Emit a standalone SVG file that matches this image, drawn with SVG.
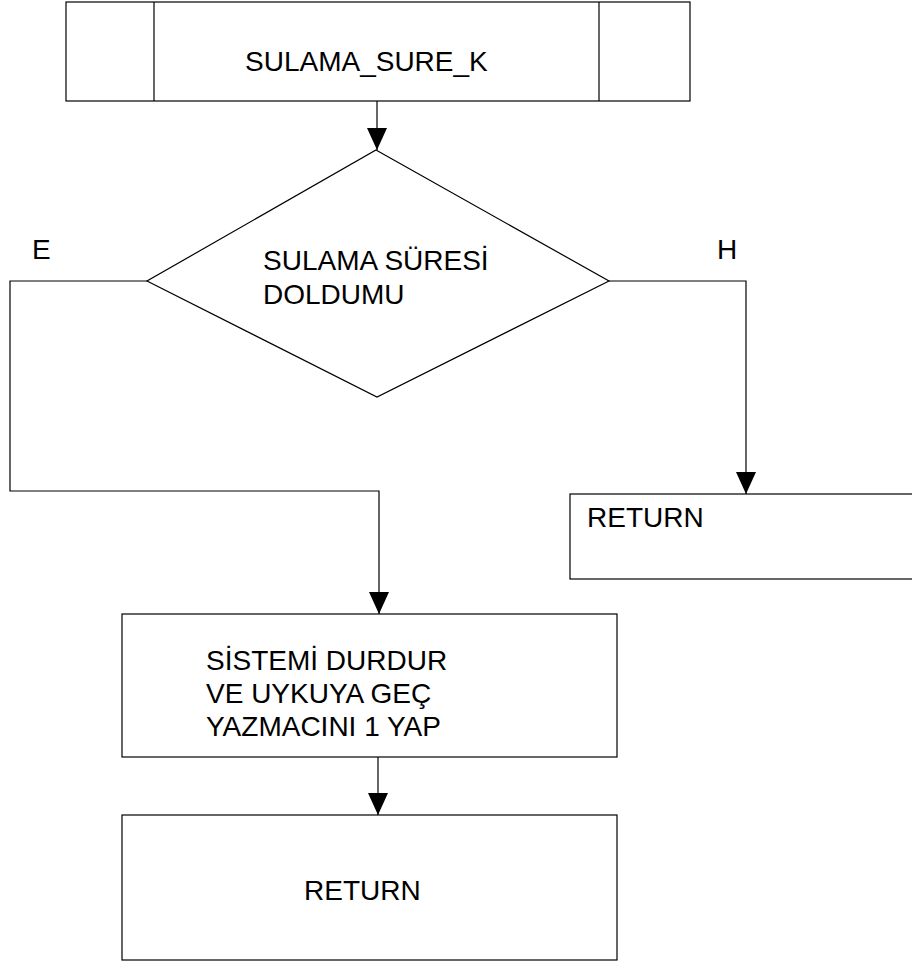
<svg xmlns="http://www.w3.org/2000/svg" width="912" height="963" viewBox="0 0 912 963">
  <style>
    .shape { fill: #ffffff; stroke: #000000; stroke-width: 1.2; }
    .wire { fill: none; stroke: #000000; stroke-width: 1.2; }
    .label { font-family: "Liberation Sans", Arial, sans-serif; font-size: 28px; fill: #000000; }
  </style>
  <defs>
    <!-- solid triangular arrowhead, tip at the end of the path -->
    <marker id="arrow" viewBox="0 0 22 20" refX="22" refY="10" markerWidth="22" markerHeight="20" markerUnits="userSpaceOnUse" orient="auto">
      <path d="M0,0 L22,10 L0,20 Z" fill="#000000"/>
    </marker>
  </defs>
  <rect width="912" height="963" fill="#ffffff"/>

  <!-- subroutine header -->
  <g id="start">
    <rect class="shape" x="66" y="2" width="624" height="99"/>
    <line class="wire" x1="154" y1="2" x2="154" y2="101"/>
    <line class="wire" x1="599" y1="2" x2="599" y2="101"/>
    <text class="label" x="245" y="71">SULAMA_SURE_K</text>
  </g>

  <!-- decision -->
  <g id="decision">
    <polygon class="shape" points="376,150 609,281 377,397 147,281"/>
    <text class="label" x="263" y="270">SULAMA SÜRESİ</text>
    <text class="label" x="263" y="304">DOLDUMU</text>
  </g>

  <!-- yes branch -->
  <g id="stop">
    <rect class="shape" x="122" y="614" width="495" height="143"/>
    <text class="label" x="206" y="670">SİSTEMİ DURDUR</text>
    <text class="label" x="206" y="703">VE UYKUYA GEÇ</text>
    <text class="label" x="206" y="736">YAZMACINI 1 YAP</text>
  </g>

  <g id="return-yes">
    <rect class="shape" x="122" y="815" width="495" height="145"/>
    <text class="label" x="304" y="900">RETURN</text>
  </g>

  <!-- no branch -->
  <g id="return-no">
    <rect class="shape" x="570" y="494" width="360" height="85"/>
    <text class="label" x="587" y="527">RETURN</text>
  </g>

  <!-- connectors -->
  <g id="connectors">
    <line class="wire" x1="377" y1="101" x2="377" y2="150" marker-end="url(#arrow)"/>
    <polyline class="wire" points="147,281 10,281 10,491 379,491 379,614" marker-end="url(#arrow)"/>
    <polyline class="wire" points="609,281 746,281 746,494" marker-end="url(#arrow)"/>
    <line class="wire" x1="378" y1="757" x2="378" y2="815" marker-end="url(#arrow)"/>
    <text class="label" x="32" y="259">E</text>
    <text class="label" x="717" y="259">H</text>
  </g>
</svg>
